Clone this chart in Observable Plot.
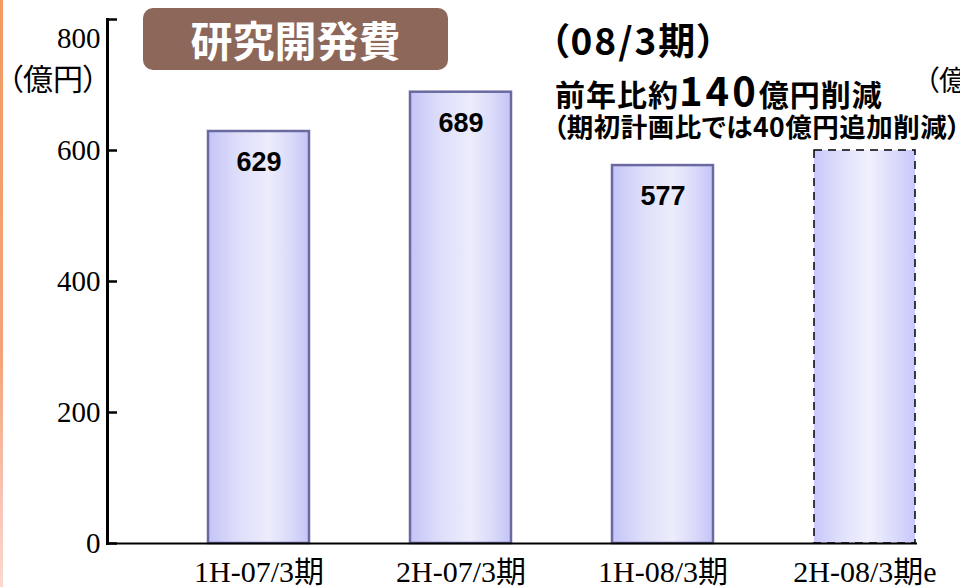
<!DOCTYPE html>
<html>
<head>
<meta charset="utf-8">
<script src="https://cdn.jsdelivr.net/npm/d3@7"></script>
<script src="https://cdn.jsdelivr.net/npm/@observablehq/plot@0.6"></script>
<style>
  html, body { margin: 0; padding: 0; background: #fff; }
  #wrap { position: relative; width: 960px; height: 587px; overflow: hidden; background: #fff; }
  #wrap svg { position: absolute; left: 0; top: 0; }
  .strip { position: absolute; left: 0; top: 0; width: 3px; height: 587px;
    background: linear-gradient(to bottom, #f39a62 0%, #f4a276 60%, #f8c4b4 85%, #fbd8d0 100%); }
  .jp { position: absolute; font-family: "Noto Sans CJK JP", sans-serif; color: #000; white-space: nowrap;
    line-height: 1; font-feature-settings: "palt"; }
  .titlebox { position: absolute; left: 143px; top: 8px; width: 305px; height: 62px; background: #8d6759;
    border-radius: 10px; color: #fff; font-family: "Noto Sans CJK JP", sans-serif; font-weight: 700;
    font-size: 42px; line-height: 62px; text-align: center; }
  .big { display: inline-block; height: 30px; line-height: 30px; font-size: 40px; letter-spacing: 3px; }
</style>
</head>
<body>
<div id="wrap">
  <div class="strip"></div>
</div>
<script>
const categories = ["1H-07/3期", "2H-07/3期", "1H-08/3期", "2H-08/3期e"];
const values = [629, 689, 577, 600];
const estimated = [false, false, false, true];
const yTicks = [0, 200, 400, 600, 800];
const unitLabel = "（億円）";
const titleText = "研究開発費";
const note1 = "（08/3期）";
const note2a = "前年比約", note2b = "140", note2c = "億円削減";
const note3 = "（期初計画比では40億円追加削減）";
const cutUnit = "（億";

const data = categories.map((c, i) => ({cat: c, value: values[i], est: estimated[i]}));
const serif = "'Liberation Serif', 'Noto Sans CJK JP', serif";

const chart = Plot.plot({
  width: 960,
  height: 587,
  marginLeft: 107,
  marginRight: 43,
  marginTop: 19,
  marginBottom: 44,
  style: {background: "transparent", color: "#000", fontFamily: serif, fontSize: "29px", overflow: "visible"},
  x: {type: "band", domain: categories, range: [107, 1016], padding: 0.5, label: null},
  y: {domain: [0, 800], label: null},
  marks: [
    Plot.barY(data, {filter: d => !d.est, x: "cat", y: "value", fill: "url(#barGrad)", stroke: "#6a6aa0", strokeWidth: 2.5}),
    Plot.barY(data, {filter: d => d.est, x: "cat", y: "value", fill: "url(#barGrad2)", stroke: "#000", strokeWidth: 1.5, strokeDasharray: "8,6"}),
    Plot.text(data, {filter: d => !d.est, x: "cat", y: "value", text: d => String(d.value), dy: 31,
      fontFamily: "'Liberation Sans', Arial, sans-serif", fontWeight: "bold", fontSize: 27, fill: "#000"}),
    Plot.ruleY([0], {stroke: "#000", strokeWidth: 2}),
    Plot.frame({anchor: "left", stroke: "#000", strokeWidth: 3}),
    Plot.axisY({ticks: yTicks, tickSize: -10, tickPadding: 17, strokeWidth: 2.5,
      tickFormat: d => d === 800 ? "" : String(d), fontSize: 29, fontFamily: serif, label: null}),
    Plot.text([800], {y: d => d, text: d => String(d), frameAnchor: "left", textAnchor: "end", dx: -7, dy: 19,
      fontSize: 29, fontFamily: serif, fill: "#000"}),
    Plot.axisX({tickSize: 0, tickPadding: 17, fontSize: 30, fontFamily: serif, label: null})
  ]
});

const defs = d3.select(chart).insert("defs", ":first-child");
function grad(id, stops) {
  const g = defs.append("linearGradient").attr("id", id).attr("x1", "0").attr("x2", "1").attr("y1", "0").attr("y2", "0");
  stops.forEach(([o, c]) => g.append("stop").attr("offset", o).attr("stop-color", c));
}
grad("barGrad", [["0%", "#c4c4f8"], ["30%", "#dedefa"], ["60%", "#ececfc"], ["80%", "#dcdcfa"], ["100%", "#c4c4f8"]]);
grad("barGrad2", [["0%", "#c8c8fc"], ["30%", "#e2e2fc"], ["55%", "#f0f0fd"], ["80%", "#dadafc"], ["100%", "#c8c8fc"]]);

const wrap = document.getElementById("wrap");
wrap.appendChild(chart);

function addText(html, style, cls = "jp") {
  const d = document.createElement("div");
  d.className = cls;
  d.innerHTML = html;
  Object.assign(d.style, style);
  wrap.appendChild(d);
  return d;
}
addText(titleText, {}, "titlebox");
addText(unitLabel, {left: "8px", top: "62px", fontSize: "30px"});
addText(note1, {left: "550px", top: "21px", fontSize: "37px", fontWeight: "700", letterSpacing: "2px"});
addText(`${note2a}<span class="big">${note2b}</span>${note2c}`,
  {left: "555px", top: "74px", height: "30px", lineHeight: "30px", fontSize: "30px", fontWeight: "700", letterSpacing: "1px"});
addText(note3, {left: "553px", top: "113px", fontSize: "26.5px", fontWeight: "700", letterSpacing: "0.5px"});
addText(cutUnit, {left: "925px", top: "65px", fontSize: "28px"});
</script>
</body>
</html>
